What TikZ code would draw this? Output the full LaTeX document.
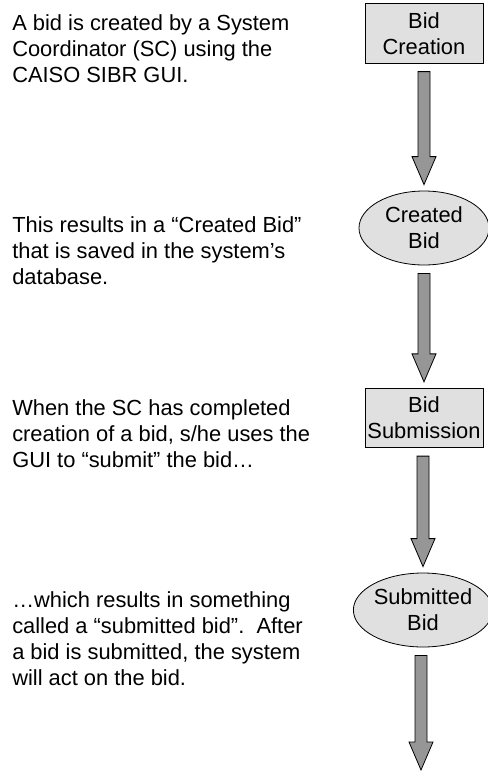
\documentclass[tikz,border=0pt]{standalone}
\usepackage{xcolor}
\usepackage{fontspec}
\setmainfont{Liberation Sans}
\usepackage{tikz}
\usetikzlibrary{calc}
\usetikzlibrary{shapes.geometric}

\definecolor{stagefill}{RGB}{224,224,224}
\definecolor{arrowfill}{RGB}{150,150,150}

\begin{document}
\begin{tikzpicture}[x=0.75pt,y=-0.75pt]
    \tikzstyle{stage text}=[font=\fontsize{16.4}{19.5}\selectfont,align=center,inner sep=0pt]
    \tikzstyle{stage box}=[stage text,draw=black,line width=0.6pt,fill=stagefill,rectangle,minimum width=88.5pt,minimum height=44.6pt]
    \tikzstyle{stage oval}=[stage text,draw=black,line width=0.6pt,fill=stagefill,ellipse,minimum width=97.5pt,minimum height=55.5pt]
    \tikzstyle{note text}=[font=\fontsize{16.4}{19.5}\selectfont,align=left,inner sep=0pt,anchor=base west]
    \tikzstyle{flow arrow}=[draw=black,line width=0.6pt,fill=arrowfill,line join=miter]

    \useasboundingbox (0,0) rectangle (487,771);

    % Stages
    \node[style=stage box]  (creation)   at (424,33.5) {Bid\\Creation};
    \node[style=stage oval] (created)    at (424,228)  {Created\\Bid};
    \node[style=stage box]  (submission) at (424,418)  {Bid\\Submission};
    \node[style=stage oval] (submitted)  at (423,610)  {Submitted\\Bid};
    \coordinate (flow end) at (421,776);

    % Notes (placed by the baseline of their last line)
    \node[style=note text] (note creation)   at (12,82)  {A bid is created by a System\\Coordinator (SC) using the\\CAISO SIBR GUI.};
    \node[style=note text] (note created)    at (12,284) {This results in a “Created Bid”\\that is saved in the system’s\\database.};
    \node[style=note text] (note submission) at (12,467) {When the SC has completed\\creation of a bid, s/he uses the\\GUI to “submit” the bid…};
    \node[style=note text] (note submitted)  at (12,685) {…which results in something\\called a “submitted bid”.\ \ After\\a bid is submitted, the system\\will act on the bid.};

    % Block arrows
    \foreach \from/\to in {creation.south/created.north, created.south/submission.north,
                           submission.south/submitted.north, submitted.south/flow end}
    {
        \draw[style=flow arrow] ($(\to |- \from)+(-6,8)$) -- ($(\to)+(-6,-34)$)
              -- ($(\to)+(-12,-34)$) -- ($(\to)+(0,-6)$) -- ($(\to)+(12,-34)$)
              -- ($(\to)+(6,-34)$) -- ($(\to |- \from)+(6,8)$) -- cycle;
    }
\end{tikzpicture}
\end{document}
